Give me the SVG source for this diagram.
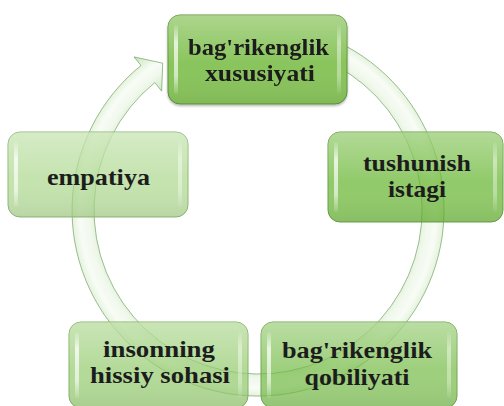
<svg xmlns="http://www.w3.org/2000/svg" width="504" height="406" viewBox="0 0 504 406">
<defs>
<style>
.t{font-family:"Liberation Serif","Times New Roman",serif;font-weight:bold;font-size:24px;fill:#1c1c1c;text-anchor:middle}
.box{fill-opacity:0.7;stroke-width:1}
.gloss{fill:url(#gloss)}
.strip{fill:url(#strip)}
</style>
<filter id="sh" x="-10%" y="-10%" width="120%" height="130%">
<feDropShadow dx="0" dy="1.5" stdDeviation="1.2" flood-color="#000" flood-opacity="0.3"/>
</filter>
<linearGradient id="gloss" x1="0" y1="0" x2="0" y2="1">
<stop offset="0" stop-color="#fff" stop-opacity="0.3"/>
<stop offset="0.45" stop-color="#fff" stop-opacity="0.06"/>
<stop offset="0.55" stop-color="#fff" stop-opacity="0"/>
<stop offset="1" stop-color="#000" stop-opacity="0.06"/>
</linearGradient>
<linearGradient id="strip" x1="0" y1="0" x2="0" y2="1">
<stop offset="0" stop-color="#fff" stop-opacity="0.1"/>
<stop offset="0.25" stop-color="#fff" stop-opacity="0.75"/>
<stop offset="0.75" stop-color="#fff" stop-opacity="0.6"/>
<stop offset="1" stop-color="#fff" stop-opacity="0.1"/>
</linearGradient>
<radialGradient id="ring" gradientUnits="userSpaceOnUse" cx="258" cy="210" r="198">
<stop offset="0.76" stop-color="#a9d193"/>
<stop offset="0.85" stop-color="#e6f3df"/>
<stop offset="0.9" stop-color="#f3faef"/>
<stop offset="0.95" stop-color="#cce6be"/>
<stop offset="1" stop-color="#9fcb87"/>
</radialGradient>
</defs>
<rect width="504" height="406" fill="#fff"/>

<g id="connectors">
<path d="M345.3,45.8 A186,186 0 1 1 141.0,65.5 L134.0,56.9 L162.7,63.2 L161.7,91.1 L154.8,82.6 A164,164 0 1 0 335.0,65.2 Z" fill="url(#ring)" fill-opacity="0.6" stroke="#5a9446" stroke-opacity="0.6" stroke-width="1"/>
</g>

<g id="node-tushunish">
<rect x="328" y="132" width="175" height="90" rx="12" class="box" fill="#62b32b" stroke="#6a9f48"/>
<rect x="328" y="132" width="175" height="90" rx="12" class="gloss"/>
<rect x="334" y="142" width="4" height="70" rx="2" class="strip"/>
<rect x="493" y="142" width="4" height="70" rx="2" class="strip" opacity="0.6"/>
<text class="t" x="417" y="171" textLength="108" lengthAdjust="spacingAndGlyphs">tushunish</text>
<text class="t" x="417" y="197" textLength="58" lengthAdjust="spacingAndGlyphs">istagi</text>
</g>

<g id="node-empatiya">
<rect x="8" y="132" width="180" height="85" rx="12" class="box" fill="#abd78c" stroke="#8fb878"/>
<rect x="8" y="132" width="180" height="85" rx="12" class="gloss"/>
<rect x="14" y="142" width="4" height="65" rx="2" class="strip"/>
<rect x="178" y="142" width="4" height="65" rx="2" class="strip" opacity="0.6"/>
<text class="t" x="98.5" y="185" textLength="103" lengthAdjust="spacingAndGlyphs">empatiya</text>
</g>

<g id="node-insonning">
<rect x="69" y="322" width="179" height="86" rx="12" class="box" fill="#93ca6c" stroke="#84b265"/>
<rect x="69" y="322" width="179" height="86" rx="12" class="gloss"/>
<rect x="75" y="332" width="4" height="66" rx="2" class="strip"/>
<rect x="238" y="332" width="4" height="66" rx="2" class="strip" opacity="0.6"/>
<text class="t" x="159" y="357" textLength="112" lengthAdjust="spacingAndGlyphs">insonning</text>
<text class="t" x="160" y="383" textLength="140" lengthAdjust="spacingAndGlyphs">hissiy sohasi</text>
</g>

<g id="node-qobiliyati">
<rect x="261" y="322" width="196" height="86" rx="12" class="box" fill="#74bb44" stroke="#72a653"/>
<rect x="261" y="322" width="196" height="86" rx="12" class="gloss"/>
<rect x="267" y="332" width="4" height="66" rx="2" class="strip"/>
<rect x="447" y="332" width="4" height="66" rx="2" class="strip" opacity="0.6"/>
<text class="t" x="357" y="358" textLength="150" lengthAdjust="spacingAndGlyphs">bag'rikenglik</text>
<text class="t" x="357" y="385" textLength="105" lengthAdjust="spacingAndGlyphs">qobiliyati</text>
</g>

<g id="node-xususiyati" filter="url(#sh)">
<rect x="168" y="15" width="179" height="89" rx="12" fill="#89c45c" stroke="#5f933b" stroke-width="1"/>
<rect x="168" y="15" width="179" height="89" rx="12" class="gloss"/>
<rect x="174" y="25" width="4" height="69" rx="2" class="strip"/>
<rect x="337" y="25" width="4" height="69" rx="2" class="strip" opacity="0.6"/>
<text class="t" x="258.5" y="55" textLength="141" lengthAdjust="spacingAndGlyphs">bag'rikenglik</text>
<text class="t" x="260" y="81" textLength="110" lengthAdjust="spacingAndGlyphs">xususiyati</text>
</g>
</svg>
